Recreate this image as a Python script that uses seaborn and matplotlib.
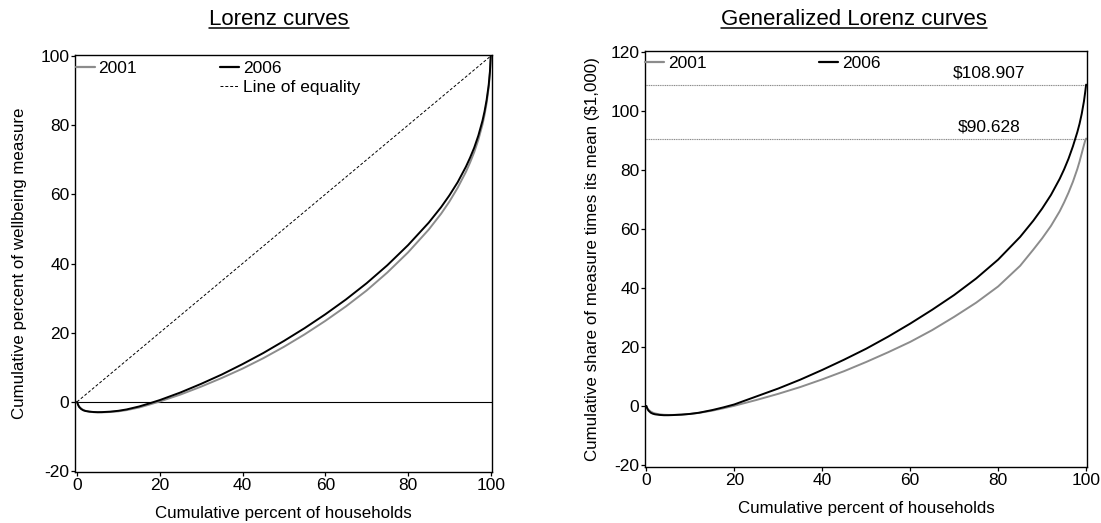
import numpy as np
import pandas as pd
import matplotlib
matplotlib.use('Agg')
import matplotlib.pyplot as plt
import seaborn as sns
from matplotlib.lines import Line2D

# cumulative percent of households
pct = [0, 0.25, 0.5, 1, 1.5, 2, 3, 4, 5, 6, 8, 10, 12, 15, 17.5, 20, 25, 30, 35, 40,
       45, 50, 55, 60, 65, 70, 75, 80, 85, 88, 90, 92, 94, 95, 96, 97, 98, 98.5,
       99, 99.5, 99.8, 100]

# Lorenz curves (cumulative percent of wellbeing measure)
lorenz_2006 = [0, -0.9, -1.5, -2.1, -2.45, -2.65, -2.85, -2.95, -3.0, -2.98, -2.85,
               -2.6, -2.2, -1.35, -0.45, 0.5, 2.7, 5.2, 7.9, 10.9, 14.1, 17.6, 21.3,
               25.3, 29.6, 34.3, 39.5, 45.3, 51.8, 56.3, 59.7, 63.5, 68.0, 70.6, 73.5,
               77.0, 81.3, 84.0, 87.3, 91.6, 95.5, 100]
lorenz_2001 = [0, -0.8, -1.35, -1.95, -2.35, -2.6, -2.85, -3.0, -3.05, -3.05, -2.95,
               -2.75, -2.4, -1.65, -0.8, 0.1, 2.1, 4.4, 6.9, 9.6, 12.6, 15.9, 19.5,
               23.4, 27.6, 32.2, 37.4, 43.2, 49.8, 54.4, 57.9, 61.9, 66.5, 69.2, 72.2,
               75.8, 80.2, 83.0, 86.4, 90.9, 95.0, 100]

# Generalized Lorenz curves ($1,000)
glorenz_2006 = [0, -1.0, -1.6, -2.3, -2.65, -2.85, -3.05, -3.15, -3.15, -3.1, -2.95,
                -2.7, -2.3, -1.4, -0.5, 0.5, 3.2, 5.9, 8.9, 12.2, 15.7, 19.4, 23.5,
                27.9, 32.6, 37.6, 43.2, 49.6, 57.3, 62.8, 66.9, 71.5, 77.0, 80.2, 83.8,
                88.0, 92.8, 95.6, 99.0, 103.2, 106.5, 108.907]
glorenz_2001 = [0, -0.8, -1.3, -1.9, -2.3, -2.55, -2.85, -3.0, -3.05, -3.05, -2.95,
                -2.7, -2.35, -1.6, -0.8, 0.05, 2.0, 4.1, 6.4, 9.0, 11.8, 14.9, 18.2,
                21.7, 25.7, 30.2, 35.0, 40.5, 47.5, 53.0, 56.8, 61.0, 66.0, 69.0, 72.3,
                76.0, 80.3, 82.8, 85.6, 88.4, 90.0, 90.628]

mean_labels = ["$108.907", "$90.628"]
mean_values = [108.907, 90.628]
years = ["2001", "2006"]
palette = {"2001": "#8c8c8c", "2006": "black"}


def long_frame(v01, v06):
    return pd.DataFrame({
        "pct": pct * 2,
        "value": v01 + v06,
        "year": ["2001"] * len(pct) + ["2006"] * len(pct),
    })


df_l = long_frame(lorenz_2001, lorenz_2006)
df_g = long_frame(glorenz_2001, glorenz_2006)

sns.set_style("white")
plt.rcParams['font.family'] = ['Liberation Sans', 'DejaVu Sans']
plt.rcParams['axes.unicode_minus'] = False
for key in ("text.color", "axes.labelcolor", "xtick.color", "ytick.color"):
    plt.rcParams[key] = "black"
FS = 12.5
LFS = 12.2

fig = plt.figure(figsize=(11.01, 5.23), dpi=100)
ax1 = fig.add_axes([75 / 1101, 51 / 523, 417 / 1101, 417 / 523])
ax2 = fig.add_axes([645 / 1101, 56 / 523, 442 / 1101, 416 / 523])

# --- Lorenz curves
ax1.axhline(0, color="black", lw=0.8, zorder=1)
ax1.plot([0, 100], [0, 100], color="black", lw=0.7, ls=(0, (3, 2)), zorder=1)
sns.lineplot(data=df_l, x="pct", y="value", hue="year", palette=palette,
             hue_order=years, ax=ax1, legend=False, lw=1.4, estimator=None, sort=False)
ax1.set_xlim(-0.5, 100.3)
ax1.set_ylim(-20.3, 100.3)
ax1.set_yticks([-20, 0, 20, 40, 60, 80, 100])
ax1.set_ylabel("Cumulative percent of wellbeing measure", fontsize=LFS)
ax1.yaxis.set_label_coords(-0.115, 0.5)

# --- Generalized Lorenz curves
for v, lab in zip(mean_values, mean_labels):
    ax2.axhline(v, color="#8a8a8a", lw=0.8, ls=(0, (1, 0.6)), zorder=1)
    ax2.text(78, v + 1.5, lab.replace("$", r"\$"), ha="center", va="bottom", fontsize=FS)
sns.lineplot(data=df_g, x="pct", y="value", hue="year", palette=palette,
             hue_order=years, ax=ax2, legend=False, lw=1.4, estimator=None, sort=False)
ax2.set_xlim(-0.3, 100.2)
ax2.set_ylim(-20.7, 120.3)
ax2.set_yticks([-20, 0, 20, 40, 60, 80, 100, 120])
ax2.set_ylabel("Cumulative share of measure times its mean ($1,000)", fontsize=LFS)
ax2.yaxis.set_label_coords(-0.101, 0.5)

for ax in (ax1, ax2):
    ax.set_xticks([0, 20, 40, 60, 80, 100])
    ax.set_xlabel("Cumulative percent of households", fontsize=LFS)
    ax.xaxis.set_label_coords(0.5, -0.082)
    ax.tick_params(axis="both", which="both", direction="out", length=3, width=0.9,
                   labelsize=FS, pad=1, bottom=True, left=True, color="black")
    for s in ax.spines.values():
        s.set_color("black")
        s.set_linewidth(1.0)

# legends
h01 = Line2D([], [], color=palette["2001"], lw=1.6)
h06 = Line2D([], [], color=palette["2006"], lw=1.6)
heq = Line2D([], [], color="black", lw=0.7, ls=(0, (3, 2)))
blank = Line2D([], [], alpha=0)
ax1.legend([h01, blank, h06, heq], ["2001", " ", "2006", "Line of equality"], ncol=2,
           loc="upper left", bbox_to_anchor=(-0.005, 0.993), frameon=False, fontsize=FS,
           handlelength=1.1, handletextpad=0.23, columnspacing=4.77, labelspacing=0.22,
           borderpad=0.15, borderaxespad=0)
ax2.legend([h01, h06], ["2001", "2006"], ncol=2,
           loc="upper left", bbox_to_anchor=(-0.005, 0.995), frameon=False, fontsize=FS,
           handlelength=1.1, handletextpad=0.23, columnspacing=6.44,
           borderpad=0.15, borderaxespad=0)

# underlined titles
titles = [fig.text(279 / 1101, 1 - 25 / 523, "Lorenz curves", ha="center", va="baseline", fontsize=16),
          fig.text(854 / 1101, 1 - 25 / 523, "Generalized Lorenz curves", ha="center", va="baseline", fontsize=16)]
fig.canvas.draw()
renderer = fig.canvas.get_renderer()
inv = fig.transFigure.inverted()
for t in titles:
    bb = t.get_window_extent(renderer)
    base = (1 - 25 / 523) * fig.bbox.height - 3
    (x0, y0), (x1, _) = inv.transform([(bb.x0, base), (bb.x1, base)])
    fig.add_artist(Line2D([x0, x1], [y0, y0], color="black", lw=1.1, transform=fig.transFigure))

fig.savefig("out.png", dpi=100)
plt.close(fig)
